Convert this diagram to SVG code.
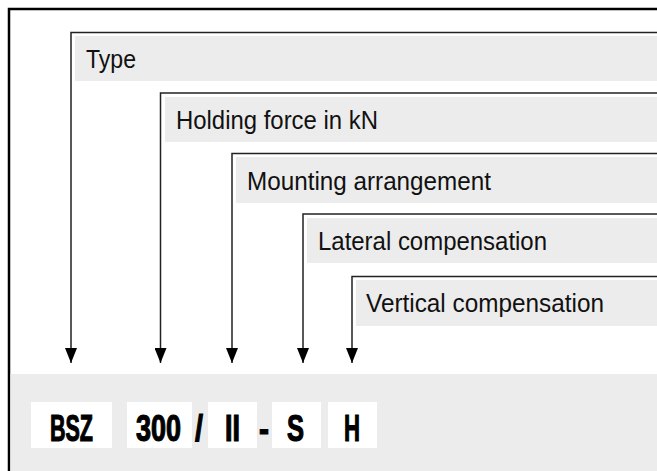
<svg xmlns="http://www.w3.org/2000/svg" width="657" height="471" viewBox="0 0 657 471">
<defs>
<style>
.band{fill:#ececec}
.lbl{font-family:"Liberation Sans",Arial,sans-serif;font-size:25px;fill:#111}
.code{font-family:"Liberation Sans",Arial,sans-serif;font-weight:bold;font-size:36px;fill:#000;stroke:#000;stroke-width:1.2}
.box{fill:#fff}
.ln{fill:none;stroke:#222;stroke-width:1.5}
</style>
<marker id="ah" viewBox="0 0 15 12" refX="15" refY="6" markerWidth="15" markerHeight="12" markerUnits="userSpaceOnUse" orient="auto">
<path d="M0,0 L15,6 L0,12 Z" fill="#000"/>
</marker>
</defs>
<rect x="0" y="0" width="657" height="471" fill="#fff"/>
<rect x="9" y="9" width="660" height="470" fill="none" stroke="#000" stroke-width="2.5"/>
<rect x="10.5" y="374" width="647" height="97" class="band"/>
<g id="type">
<rect x="75" y="36" width="582" height="45" class="band"/>
<text x="86" y="68" class="lbl" textLength="50" lengthAdjust="spacingAndGlyphs">Type</text>
</g>
<g id="holding">
<rect x="165" y="97" width="492" height="45" class="band"/>
<text x="176" y="129" class="lbl" textLength="202" lengthAdjust="spacingAndGlyphs">Holding force in kN</text>
</g>
<g id="mounting">
<rect x="236" y="157" width="421" height="46" class="band"/>
<text x="247" y="190" class="lbl" textLength="244" lengthAdjust="spacingAndGlyphs">Mounting arrangement</text>
</g>
<g id="lateral">
<rect x="307" y="218" width="350" height="45" class="band"/>
<text x="318" y="250" class="lbl" textLength="229" lengthAdjust="spacingAndGlyphs">Lateral compensation</text>
</g>
<g id="vertical">
<rect x="356" y="280" width="301" height="46" class="band"/>
<text x="366" y="312" class="lbl" textLength="238" lengthAdjust="spacingAndGlyphs">Vertical compensation</text>
</g>
<g id="connectors">
<path class="ln" d="M657,32.5 H71 V363" marker-end="url(#ah)"/>
<path class="ln" d="M657,93 H160.5 V363" marker-end="url(#ah)"/>
<path class="ln" d="M657,153.5 H232 V363" marker-end="url(#ah)"/>
<path class="ln" d="M657,214 H303 V363" marker-end="url(#ah)"/>
<path class="ln" d="M657,276.5 H352 V363" marker-end="url(#ah)"/>
</g>
<g id="code">
<rect x="31" y="402" width="81" height="46" class="box"/>
<rect x="127" y="402" width="65" height="46" class="box"/>
<rect x="208" y="402" width="49" height="46" class="box"/>
<rect x="272" y="402" width="49" height="46" class="box"/>
<rect x="328" y="402" width="49" height="46" class="box"/>
<text x="50" y="441" class="code" textLength="43" lengthAdjust="spacingAndGlyphs">BSZ</text>
<text x="136" y="441" class="code" textLength="45" lengthAdjust="spacingAndGlyphs">300</text>
<text x="195" y="441" class="code" textLength="8" lengthAdjust="spacingAndGlyphs">/</text>
<text x="225" y="441" class="code" textLength="15" lengthAdjust="spacingAndGlyphs">II</text>
<text x="259" y="441" class="code" textLength="10" lengthAdjust="spacingAndGlyphs">-</text>
<text x="287" y="441" class="code" textLength="17" lengthAdjust="spacingAndGlyphs">S</text>
<text x="344" y="441" class="code" textLength="16" lengthAdjust="spacingAndGlyphs">H</text>
</g>
</svg>
